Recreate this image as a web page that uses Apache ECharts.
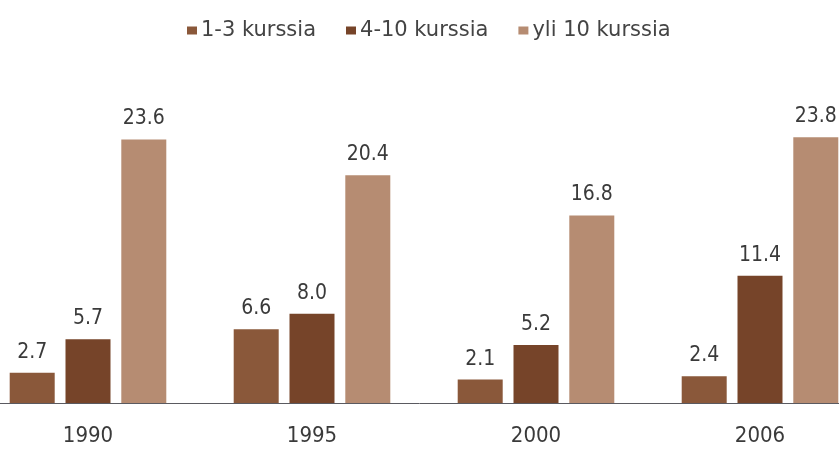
<!DOCTYPE html>
<html>
<head>
<meta charset="utf-8">
<script src="https://cdn.jsdelivr.net/npm/echarts@6/dist/echarts.min.js"></script>
<style>
    html, body { margin: 0; padding: 0; background: #fff; }
    #chart { width: 839px; height: 450px; }
</style>
</head>
<body>
<div id="chart"></div>
<script>
// vuodet ja sarjat
var years = ['1990', '1995', '2000', '2006'];
var seriesNames = ['1-3 kurssia', '4-10 kurssia', 'yli 10 kurssia'];
var kurssit13 = [2.7, 6.6, 2.1, 2.4];
var kurssit410 = [5.7, 8.0, 5.2, 11.4];
var yli10 = [23.6, 20.4, 16.8, 23.8];
var colors = ['#8a583a', '#764429', '#b68c72'];

var numFont = '"Liberation Sans Narrow", "DejaVu Sans Condensed", sans-serif';

function makeSeries(name, data, color) {
    return {
        name: name,
        type: 'bar',
        data: data,
        barWidth: 45,
        barGap: '24%',
        itemStyle: { color: color },
        label: {
            show: true,
            position: 'top',
            distance: 10,
            color: '#3a3a3a',
            fontFamily: numFont,
            fontSize: 21,
            formatter: function(p) { return p.value.toFixed(1); }
        }
    };
}

var myChart = echarts.init(document.getElementById('chart'));
var option = {
    backgroundColor: '#fff',
    animation: false,
    legend: {
        data: seriesNames,
        left: 182,
        top: 15,
        itemWidth: 10,
        itemHeight: 8,
        itemGap: 30,
        icon: 'rect',
        textStyle: {
            color: '#444',
            fontFamily: '"DejaVu Sans", sans-serif',
            fontSize: 21,
            padding: [4, 0, 0, -1]
        }
    },
    grid: {
        left: -24,
        width: 896,
        top: 68,
        bottom: 47,
        containLabel: false,
        outerBoundsMode: 'none'
    },
    xAxis: {
        type: 'category',
        data: years,
        axisLine: { lineStyle: { color: '#5a5a60', width: 1 } },
        axisTick: { show: false },
        axisLabel: {
            color: '#3a3a3a',
            fontFamily: numFont,
            fontSize: 22,
            margin: 22
        }
    },
    yAxis: {
        type: 'value',
        min: 0,
        max: 30,
        show: false,
        splitLine: { show: false }
    },
    series: [
        makeSeries(seriesNames[0], kurssit13, colors[0]),
        makeSeries(seriesNames[1], kurssit410, colors[1]),
        makeSeries(seriesNames[2], yli10, colors[2])
    ]
};
myChart.setOption(option);
</script>
</body>
</html>
